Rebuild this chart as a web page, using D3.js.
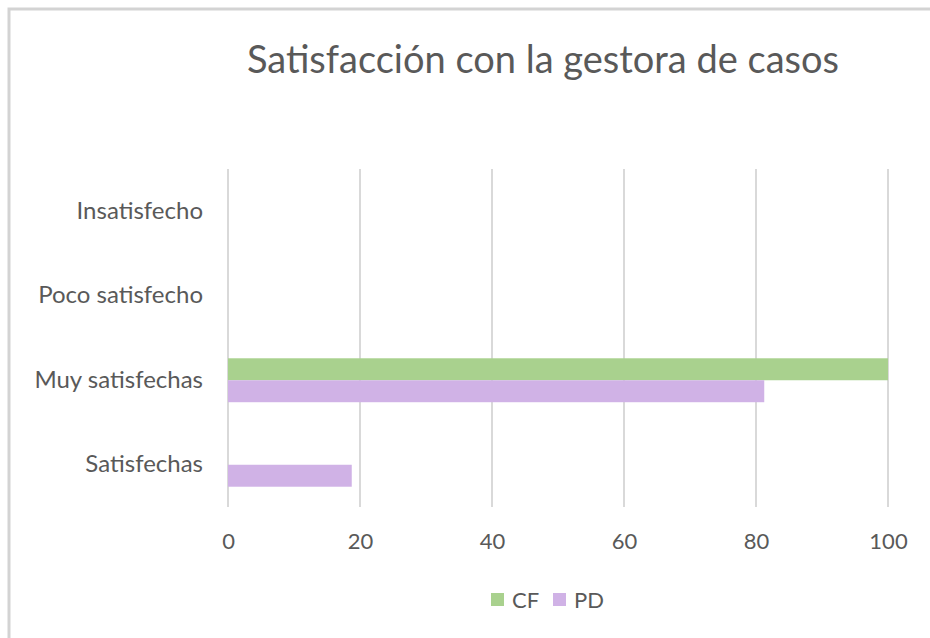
<!DOCTYPE html>
<html>
<head>
<meta charset="utf-8">
<script src="https://cdn.jsdelivr.net/npm/d3@7"></script>
<style>
    html, body { margin: 0; padding: 0; background: #fff; overflow: hidden; }
    svg { display: block; }
    text { font-family: Lato, "Open Sans", sans-serif; fill: #595959; }
</style>
</head>
<body>
<script>
// datos
const categorias = ['Insatisfecho', 'Poco satisfecho', 'Muy satisfechas', 'Satisfechas'];
const series = ['CF', 'PD'];
const valoresCF = [0, 0, 100, 0];
const valoresPD = [0, 0, 81.25, 18.75];
const ticksX = [0, 20, 40, 60, 80, 100];
const colores = ['#A9D18E', '#D0B2E6'];
const titulo = 'Satisfacción con la gestora de casos';

const width = 930;
const height = 638;

const svg = d3.select('body').append('svg')
    .attr('width', width)
    .attr('height', height);

// marco gris del grafico (solo se ve arriba y a la izquierda)
svg.append('path')
    .attr('d', `M9,${height} V9 H${width}`)
    .attr('fill', 'none')
    .attr('stroke', '#d3d3d3')
    .attr('stroke-width', 3);

const margin = { top: 169, left: 228, right: 42, bottom: 131 };
const innerWidth = width - margin.left - margin.right;
const innerHeight = height - margin.top - margin.bottom;

const x = d3.scaleLinear().domain([0, 100]).range([0, innerWidth]);
const y = d3.scaleBand()
    .domain(categorias)
    .range([0, innerHeight])
    .paddingInner(0.48)
    .paddingOuter(0.24);
const ySub = d3.scaleBand().domain(series).range([0, y.bandwidth()]);

const g = svg.append('g')
    .attr('transform', `translate(${margin.left}, ${margin.top})`);

// lineas de la cuadricula
g.append('g')
    .selectAll('line')
    .data(ticksX)
    .join('line')
    .attr('x1', d => x(d)).attr('x2', d => x(d))
    .attr('y1', 0).attr('y2', innerHeight)
    .attr('stroke', '#d9d9d9')
    .attr('stroke-width', 2);

// barras
const datos = [];
categorias.forEach((c, i) => {
    datos.push({ cat: c, serie: 'CF', valor: valoresCF[i] });
    datos.push({ cat: c, serie: 'PD', valor: valoresPD[i] });
});

g.append('g')
    .selectAll('rect')
    .data(datos.filter(d => d.valor > 0))
    .join('rect')
    .attr('x', 0)
    .attr('y', d => y(d.cat) + ySub(d.serie))
    .attr('width', d => x(d.valor))
    .attr('height', ySub.bandwidth())
    .attr('fill', d => colores[series.indexOf(d.serie)]);

// eje x
const ejeX = g.append('g')
    .attr('transform', `translate(0, ${innerHeight})`)
    .call(d3.axisBottom(x).tickValues(ticksX).tickSize(0).tickPadding(26))
    .attr('font-size', 22)
    .attr('font-family', null)
    .attr('fill', null);
ejeX.select('.domain').remove();
ejeX.selectAll('text')
    .attr('text-anchor', 'middle')
    .style('fill', '#595959');

// eje y
const ejeY = g.append('g')
    .call(d3.axisLeft(y).tickSize(0).tickPadding(25))
    .attr('font-size', 24)
    .attr('font-family', null)
    .attr('fill', null);
ejeY.select('.domain').remove();
ejeY.selectAll('text')
    .attr('text-anchor', 'end')
    .style('fill', '#595959');

// titulo
svg.append('text')
    .attr('x', 543)
    .attr('y', 73)
    .attr('text-anchor', 'middle')
    .attr('font-size', 38)
    .text(titulo);

// leyenda
const leyenda = svg.append('g').attr('transform', 'translate(491, 600)');
const items = leyenda.selectAll('g')
    .data(series)
    .join('g')
    .attr('transform', (d, i) => `translate(${i * 62}, 0)`);
items.append('rect')
    .attr('x', 0).attr('y', -7)
    .attr('width', 13).attr('height', 13)
    .attr('fill', (d, i) => colores[i]);
items.append('text')
    .attr('x', 21)
    .attr('dy', '0.35em')
    .attr('font-size', 22)
    .text(d => d);
</script>
</body>
</html>
